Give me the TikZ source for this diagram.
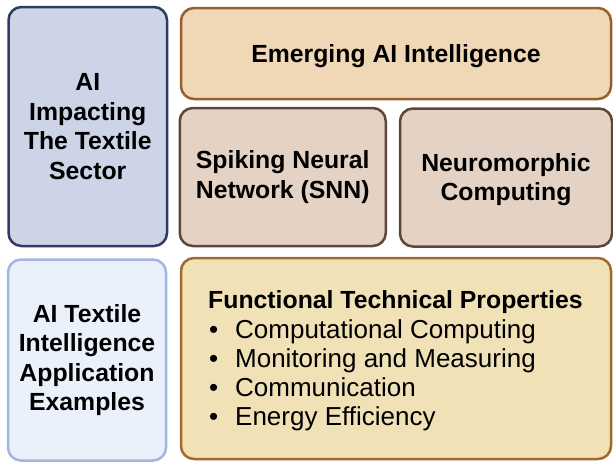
\documentclass[tikz,border=0pt]{standalone}
\usepackage{fontspec}
\setmainfont{Liberation Sans}
\definecolor{lavfill}{HTML}{CDD4E8}
\definecolor{navybord}{HTML}{2F3B63}
\definecolor{emfill}{HTML}{F0D8B6}
\definecolor{embord}{HTML}{96602C}
\definecolor{snnfill}{HTML}{E4D3C5}
\definecolor{snnbord}{HTML}{5F4636}
\definecolor{blfill}{HTML}{EBF1FB}
\definecolor{blbord}{HTML}{A2B7DD}
\definecolor{brfill}{HTML}{F1E1B6}
\definecolor{brbord}{HTML}{A06A2B}
\tikzset{
  card/.style={rectangle, rounded corners=13pt, line width=2.5pt, inner sep=0pt,
    align=center, font=\fontsize{24.8}{29.6}\selectfont\bfseries},
  itemline/.style={anchor=base west, inner sep=0pt, font=\fontsize{26}{29.6}\selectfont},
}
\newcommand{\bul}{\makebox[26pt][l]{\textbullet}}
\newcommand{\lowr}[2]{\raisebox{-#1}[\height][\depth]{#2}}
\begin{document}
\begin{tikzpicture}[x=1pt,y=-1pt]
\useasboundingbox (0,0) rectangle (613,461);
\node[card, fill=lavfill, draw=navybord, minimum width=158.5pt, minimum height=239pt] (impact) at (87.75,126.5) {AI\\Impacting\\The Textile\\Sector};
\node[card, fill=emfill, draw=embord, minimum width=430pt, minimum height=91pt] (emerging) at (396,53.5) {\lowr{3pt}{Emerging AI Intelligence}};
\node[card, fill=snnfill, draw=snnbord, minimum width=206pt, minimum height=138pt] (snn) at (282.75,177) {Spiking Neural\\Network (SNN)};
\node[card, fill=snnfill, draw=snnbord, minimum width=212pt, minimum height=138pt] (neuro) at (506,177.5) {\lowr{2pt}{Neuromorphic}\\\lowr{2pt}{Computing}};
\node[card, fill=blfill, draw=blbord, minimum width=158pt, minimum height=201pt] (examples) at (87,360) {AI Textile\\Intelligence\\Application\\Examples};
\node[card, fill=brfill, draw=brbord, minimum width=430pt, minimum height=201pt] (props) at (396,358.5) {};
\node[itemline, font=\fontsize{24.8}{29.6}\selectfont\bfseries] (ptitle) at (208,308) {Functional Technical Properties};
\node[itemline] (b1) at (209,338) {\bul Computational Computing};
\node[itemline] (b2) at (209,367) {\bul Monitoring and Measuring};
\node[itemline] (b3) at (209,396.5) {\bul Communication};
\node[itemline] (b4) at (209,425.5) {\bul Energy Efficiency};
\end{tikzpicture}
\end{document}
